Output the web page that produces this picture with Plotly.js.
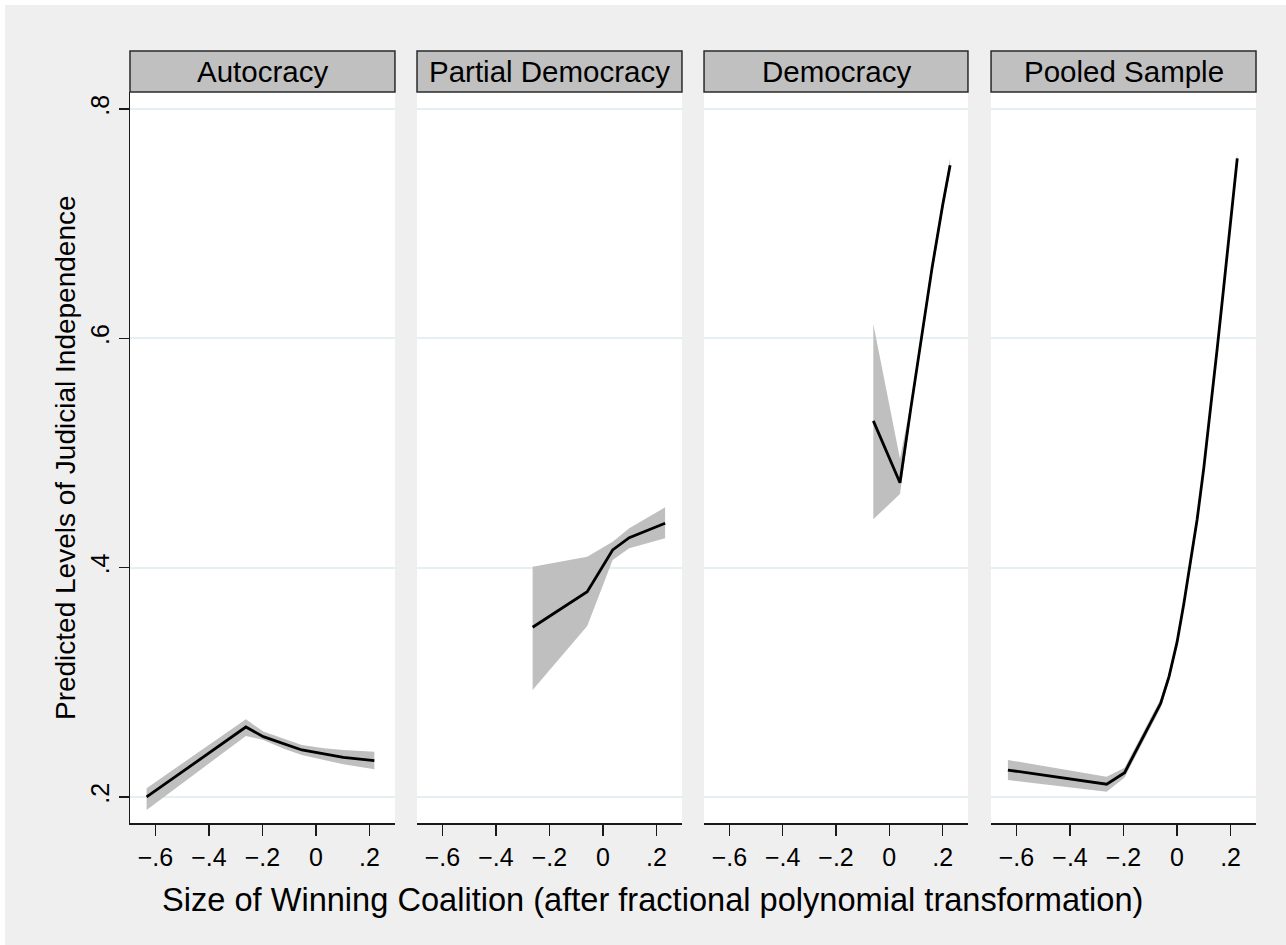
<!DOCTYPE html>
<html>
<head>
<meta charset="utf-8">
<script src="https://cdn.plot.ly/plotly-3.0.1.min.js"></script>
<style>
  html, body { margin: 0; padding: 0; background: #ffffff; }
  #chart { position: absolute; left: 5px; top: 5px; width: 1281px; height: 940px; }
</style>
</head>
<body>
<div id="chart"></div>
<script>
// ---- data ----
const panelTitles = ["Autocracy", "Partial Democracy", "Democracy", "Pooled Sample"];

const autoX  = [-0.633, -0.262, -0.197, -0.120, -0.053, 0.030, 0.102, 0.218];
const autoY  = [0.200, 0.261, 0.2526, 0.2465, 0.2410, 0.2375, 0.2346, 0.2317];
const autoHi = [0.2076, 0.2678, 0.2570, 0.2510, 0.2453, 0.2425, 0.2410, 0.2395];
const autoLo = [0.1887, 0.2532, 0.2497, 0.2420, 0.2366, 0.2320, 0.2285, 0.2242];

const partX  = [-0.263, -0.059, 0.036, 0.098, 0.232];
const partY  = [0.348, 0.379, 0.4154, 0.4261, 0.4387];
const partHi = [0.4008, 0.4096, 0.4226, 0.4343, 0.4526];
const partLo = [0.2933, 0.3490, 0.4067, 0.4169, 0.4256];

const demoX  = [-0.060, 0.040, 0.080, 0.120, 0.160, 0.200, 0.228];
const demoY  = [0.528, 0.474, 0.538, 0.601, 0.661, 0.716, 0.751];
const demoHi = [0.6125, 0.4950, 0.543, 0.606, 0.666, 0.721, 0.757];
const demoLo = [0.4422, 0.4642, 0.533, 0.596, 0.656, 0.711, 0.745];

const poolX  = [-0.632, -0.263, -0.196, -0.061, -0.030, 0.000, 0.025, 0.050, 0.075, 0.100, 0.125, 0.150, 0.175, 0.200, 0.225];
const poolY  = [0.2235, 0.2111, 0.2212, 0.2817, 0.305, 0.335, 0.368, 0.404, 0.442, 0.487, 0.537, 0.591, 0.646, 0.701, 0.757];
const poolHi = [0.2323, 0.2177, 0.2255, 0.2857, 0.309, 0.339, 0.372, 0.408, 0.446, 0.491, 0.541, 0.595, 0.650, 0.706, 0.762];
const poolLo = [0.2148, 0.2046, 0.2170, 0.2777, 0.301, 0.331, 0.364, 0.400, 0.438, 0.483, 0.533, 0.587, 0.642, 0.696, 0.752];

const xTickVals = [-0.6, -0.4, -0.2, 0, 0.2];
const xTickText = ["\u2212.6", "\u2212.4", "\u2212.2", "0", ".2"];
const yTickVals = [0.2, 0.4, 0.6, 0.8];
const yTickText = [".2", ".4", ".6", ".8"];

const xTitle = "Size of Winning Coalition (after fractional polynomial transformation)";
const yTitle = "Predicted Levels of Judicial Independence";

// ---- build ----
const series = [
  [autoX, autoY, autoHi, autoLo],
  [partX, partY, partHi, partLo],
  [demoX, demoY, demoHi, demoLo],
  [poolX, poolY, poolHi, poolLo]
];

const FONT = "Liberation Sans, Arial, Helvetica, sans-serif";
const domains = [[0, 0.2353], [0.2549, 0.4902], [0.5098, 0.7442], [0.7647, 1.0]];
const xRange = [-0.695, 0.295];
const yRange = [0.1773, 0.8148];
const gridColor = "#e6eff1";
const axisColor = "#1a1a1a";

const traces = [];
series.forEach((s, i) => {
  const [x, y, hi, lo] = s;
  const xa = i === 0 ? "x" : "x" + (i + 1);
  const ya = i === 0 ? "y" : "y" + (i + 1);
  traces.push({
    x: x.concat(x.slice().reverse()),
    y: hi.concat(lo.slice().reverse()),
    xaxis: xa, yaxis: ya,
    type: "scatter", mode: "lines", fill: "toself",
    fillcolor: "#bfbfbf", line: {width: 0, color: "rgba(0,0,0,0)"},
    hoverinfo: "skip", showlegend: false
  });
  traces.push({
    x: x, y: y, xaxis: xa, yaxis: ya,
    type: "scatter", mode: "lines",
    line: {color: "#000000", width: 2.8},
    showlegend: false
  });
});

const layout = {
  width: 1281, height: 940,
  margin: {l: 125, r: 30, t: 87, b: 122},
  paper_bgcolor: "#efefef",
  plot_bgcolor: "#ffffff",
  showlegend: false,
  font: {family: FONT, color: "#000000"},
  shapes: [],
  annotations: []
};

domains.forEach((d, i) => {
  const xk = i === 0 ? "xaxis" : "xaxis" + (i + 1);
  const yk = i === 0 ? "yaxis" : "yaxis" + (i + 1);
  const xa = i === 0 ? "x" : "x" + (i + 1);
  const ya = i === 0 ? "y" : "y" + (i + 1);
  layout[xk] = {
    domain: d, range: xRange, anchor: ya,
    tickmode: "array", tickvals: xTickVals, ticktext: xTickText,
    ticks: "outside", ticklen: 11, tickwidth: 1.5, tickcolor: axisColor,
    showline: true, linecolor: axisColor, linewidth: 1.5,
    showgrid: false, zeroline: false,
    tickfont: {size: 25, family: FONT, color: "#000"},
    fixedrange: true
  };
  layout[yk] = {
    domain: [0, 1], range: yRange, anchor: xa,
    tickmode: "array", tickvals: yTickVals, ticktext: yTickText,
    showgrid: true, gridcolor: gridColor, gridwidth: 2,
    zeroline: false, fixedrange: true
  };
  if (i === 0) {
    Object.assign(layout[yk], {
      ticks: "outside", ticklen: 10, tickwidth: 1.5, tickcolor: axisColor,
      showline: true, linecolor: axisColor, linewidth: 1.5,
      tickangle: -90, showticklabels: true,
      tickfont: {size: 25, family: FONT, color: "#000"}
    });
  } else {
    Object.assign(layout[yk], {ticks: "", showline: false, showticklabels: false});
  }
  layout.shapes.push({
    type: "rect", xref: "paper", yref: "paper",
    x0: d[0], x1: d[1], y0: 1.0, y1: 1.0561,
    fillcolor: "#c0c0c0", line: {color: "#2a2a2a", width: 1.5}
  });
  layout.annotations.push({
    xref: "paper", yref: "paper", x: (d[0] + d[1]) / 2, y: 1.028,
    xanchor: "center", yanchor: "middle", showarrow: false,
    text: panelTitles[i], font: {size: 29.5, family: FONT, color: "#000"}
  });
});

layout.annotations.push({
  xref: "paper", yref: "paper", x: 0.4636, y: -0.1053,
  xanchor: "center", yanchor: "middle", showarrow: false,
  text: xTitle, font: {size: 32.6, family: FONT, color: "#000"}
});
layout.annotations.push({
  xref: "paper", yref: "paper", x: -0.0577, y: 0.4993,
  xanchor: "center", yanchor: "middle", showarrow: false, textangle: -90,
  text: yTitle, font: {size: 28, family: FONT, color: "#000"}
});

Plotly.newPlot("chart", traces, layout, {displayModeBar: false, staticPlot: true});
</script>
</body>
</html>
